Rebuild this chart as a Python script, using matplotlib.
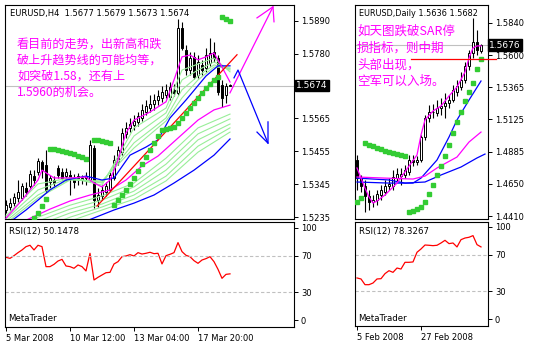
import numpy as np
import matplotlib
matplotlib.use('Agg')
import matplotlib.pyplot as plt

# ---------------- EURUSD H4 ----------------
h4_open = [1.5259, 1.5269, 1.5282, 1.5299, 1.5299, 1.5332, 1.5339, 1.5372, 1.5386, 1.5419,
           1.5409, 1.5352, 1.5359, 1.5399, 1.5386, 1.5372, 1.5376, 1.5366, 1.5366, 1.5359,
           1.5366, 1.5359, 1.5466, 1.5292, 1.5306, 1.5319, 1.5326, 1.5366, 1.5419, 1.5452,
           1.5513, 1.5533, 1.5543, 1.5553, 1.5566, 1.5586, 1.5599, 1.5613, 1.5626, 1.5633,
           1.5643, 1.5636, 1.5660, 1.5650, 1.5867, 1.5793, 1.5726, 1.5770, 1.5710, 1.5743,
           1.5733, 1.5750, 1.5786, 1.5766, 1.5676, 1.5643, 1.5677]
h4_high = [1.5292, 1.5299, 1.5316, 1.5359, 1.5349, 1.5352, 1.5392, 1.5392, 1.5432, 1.5426,
           1.5459, 1.5376, 1.5372, 1.5409, 1.5399, 1.5399, 1.5392, 1.5379, 1.5382, 1.5376,
           1.5386, 1.5493, 1.5476, 1.5332, 1.5342, 1.5352, 1.5386, 1.5442, 1.5472, 1.5533,
           1.5553, 1.5566, 1.5576, 1.5586, 1.5613, 1.5626, 1.5643, 1.5646, 1.5660, 1.5673,
           1.5680, 1.5686, 1.5680, 1.5897, 1.5887, 1.5810, 1.5786, 1.5786, 1.5776, 1.5760,
           1.5800, 1.5833, 1.5820, 1.5776, 1.5693, 1.5683, 1.5679]
h4_low = [1.5249, 1.5259, 1.5272, 1.5285, 1.5292, 1.5306, 1.5332, 1.5342, 1.5376, 1.5366,
          1.5316, 1.5332, 1.5336, 1.5366, 1.5359, 1.5356, 1.5309, 1.5332, 1.5342, 1.5346,
          1.5342, 1.5352, 1.5266, 1.5269, 1.5292, 1.5306, 1.5319, 1.5359, 1.5409, 1.5442,
          1.5499, 1.5519, 1.5526, 1.5539, 1.5556, 1.5576, 1.5586, 1.5593, 1.5609, 1.5620,
          1.5633, 1.5626, 1.5640, 1.5643, 1.5793, 1.5710, 1.5710, 1.5696, 1.5700, 1.5710,
          1.5720, 1.5740, 1.5753, 1.5643, 1.5603, 1.5616, 1.5673]
h4_close = [1.5276, 1.5282, 1.5302, 1.5319, 1.5339, 1.5319, 1.5379, 1.5359, 1.5422, 1.5392,
            1.5326, 1.5366, 1.5349, 1.5376, 1.5366, 1.5386, 1.5362, 1.5352, 1.5372, 1.5366,
            1.5372, 1.5476, 1.5292, 1.5309, 1.5326, 1.5339, 1.5376, 1.5426, 1.5459, 1.5516,
            1.5533, 1.5546, 1.5556, 1.5573, 1.5593, 1.5606, 1.5613, 1.5626, 1.5640, 1.5653,
            1.5660, 1.5670, 1.5650, 1.5867, 1.5800, 1.5726, 1.5766, 1.5703, 1.5753, 1.5726,
            1.5776, 1.5783, 1.5766, 1.5653, 1.5633, 1.5673, 1.5674]

# moving averages, read at selected bars
h4_fast_ma_bars = [0, 4, 8, 9, 12, 16, 20, 22, 24, 26, 28, 30, 32, 36, 40, 42, 44, 46, 48, 50, 52, 54, 56]
h4_fast_ma = [1.5232, 1.5292, 1.5359, 1.5392, 1.5366, 1.5366, 1.5369, 1.5349, 1.5336, 1.5359,
              1.5426, 1.5516, 1.5559, 1.5586, 1.5620, 1.5693, 1.5770, 1.5776, 1.5760, 1.5770,
              1.5783, 1.5736, 1.5686]
h4_mid_ma_bars = [0, 2, 5, 8, 11, 15, 20, 24, 27, 31, 35, 38, 41, 45, 50, 53, 56]
h4_mid_ma = [1.5219, 1.5229, 1.5259, 1.5292, 1.5326, 1.5359, 1.5372, 1.5359, 1.5366, 1.5442,
             1.5469, 1.5493, 1.5566, 1.5626, 1.5706, 1.5740, 1.5740]
h4_slow_ma_bars = [3, 5, 11, 16, 21, 26, 30, 34, 38, 43, 48, 52, 56]
h4_slow_ma = [1.5212, 1.5225, 1.5262, 1.5289, 1.5309, 1.5326, 1.5359, 1.5406, 1.5439, 1.5499,
              1.5559, 1.5593, 1.5609]
h4_long_ma_bars = [20, 27, 32, 37, 42, 47, 52, 56]
h4_long_ma = [1.5222, 1.5259, 1.5282, 1.5309, 1.5349, 1.5392, 1.5442, 1.5496]

# short-term ribbon
h4_short_bars = [0, 8, 16, 24, 32, 40, 44, 48, 52, 56]
h4_short_1 = [1.5239, 1.5346, 1.5366, 1.5342, 1.5533, 1.5599, 1.5726, 1.5746, 1.5766, 1.5720]
h4_short_2 = [1.5229, 1.5326, 1.5366, 1.5349, 1.5506, 1.5583, 1.5693, 1.5726, 1.5753, 1.5726]
h4_short_3 = [1.5222, 1.5309, 1.5362, 1.5352, 1.5483, 1.5566, 1.5660, 1.5706, 1.5743, 1.5730]
h4_short_4 = [1.5215, 1.5299, 1.5359, 1.5356, 1.5466, 1.5556, 1.5633, 1.5693, 1.5736, 1.5733]
# long-term ribbon
h4_ribbon_bars = [0, 8, 16, 24, 32, 40, 48, 56]
h4_long_1 = [1.5199, 1.5235, 1.5275, 1.5306, 1.5349, 1.5432, 1.5533, 1.5579]
h4_long_2 = [1.5186, 1.5222, 1.5262, 1.5292, 1.5336, 1.5412, 1.5513, 1.5563]
h4_long_3 = [1.5172, 1.5209, 1.5249, 1.5279, 1.5322, 1.5392, 1.5493, 1.5546]
h4_long_4 = [1.5159, 1.5195, 1.5235, 1.5269, 1.5309, 1.5372, 1.5472, 1.5533]
h4_long_5 = [1.5145, 1.5182, 1.5222, 1.5259, 1.5295, 1.5356, 1.5452, 1.5519]

# parabolic SAR
h4_sar_bars = [7, 8, 9, 10,
               11, 12, 13, 14, 15, 16, 17, 18, 19, 20,
               22, 23, 24, 25, 26,
               27, 28, 29, 30, 31, 32, 33, 34, 35, 36, 37, 38,
               39, 40, 41, 42, 43,
               44, 45, 46, 47, 48, 49, 50, 51, 52, 53,
               54, 55, 56]
h4_sar = [1.5232, 1.5249, 1.5272, 1.5295,
          1.5462, 1.5462, 1.5459, 1.5456, 1.5452, 1.5449, 1.5446, 1.5439, 1.5436, 1.5429,
          1.5493, 1.5493, 1.5489, 1.5486, 1.5483,
          1.5275, 1.5292, 1.5309, 1.5326, 1.5346, 1.5366, 1.5389, 1.5412, 1.5436, 1.5459,
          1.5483, 1.5506,
          1.5526, 1.5529, 1.5533, 1.5536, 1.5549,
          1.5566, 1.5583, 1.5599, 1.5616, 1.5633, 1.5650, 1.5666, 1.5680, 1.5693, 1.5703,
          1.5903, 1.5897, 1.5890]

h4_rsi = [68.1, 67.0, 69.9, 73.2, 76.1, 79.7, 81.2, 76.1, 81.2, 79.7,
          58.0, 58.0, 60.5, 64.1, 65.9, 58.7, 58.0, 56.2, 59.8, 58.0,
          53.3, 72.5, 43.5, 46.4, 48.9, 51.4, 51.8, 60.9, 63.4, 68.8,
          69.6, 71.0, 69.6, 73.2, 71.7, 72.5, 73.6, 72.1, 72.5, 60.9,
          69.9, 71.4, 73.2, 84.1, 74.3, 70.3, 68.8, 64.5, 61.6, 65.2,
          66.7, 68.8, 63.4, 55.1, 45.3, 49.6, 50.1478]

# trend line and drawn arrows
h4_trend_bars = [22.75, 57.75]
h4_trend = [1.5272, 1.5777]
up_path_bars = [56, 66.75]
up_path = [1.5650, 1.5937]
up_head_bars = [62.75, 66.75, 67]
up_head = [1.5900, 1.5937, 1.5887]
down_path_bars = [57, 58, 65.5]
down_path = [1.5700, 1.5726, 1.5482]
down_head_bars = [62.75, 65.5, 65.5]
down_head = [1.5519, 1.5482, 1.5553]

h4_ticks = [1.5890, 1.5780, 1.5565, 1.5455, 1.5345, 1.5235]
h4_date_bars = [0, 16, 32, 48]
h4_dates = ['5 Mar 2008', '10 Mar 12:00', '13 Mar 04:00', '17 Mar 20:00']
h4_note = ['看目前的走势，出新高和跌', '破上升趋势线的可能均等，', '如突破1.58，还有上', '1.5960的机会。']

# ---------------- EURUSD Daily ----------------
d1_open = [1.4825, 1.4691, 1.4632, 1.4558, 1.4514, 1.4528, 1.4566, 1.4588, 1.4632, 1.4632,
           1.4691, 1.4706, 1.4714, 1.4736, 1.4825, 1.4810, 1.4825, 1.4995, 1.5136, 1.5181,
           1.5173, 1.5210, 1.5225, 1.5247, 1.5269, 1.5329, 1.5366, 1.5418, 1.5521, 1.5618,
           1.5699, 1.5636]
d1_high = [1.4862, 1.4714, 1.4677, 1.4603, 1.4566, 1.4603, 1.4640, 1.4677, 1.4691, 1.4751,
           1.4766, 1.4766, 1.4788, 1.4862, 1.4862, 1.4855, 1.5010, 1.5158, 1.5232, 1.5240,
           1.5269, 1.5284, 1.5321, 1.5306, 1.5381, 1.5418, 1.5477, 1.5551, 1.5640, 1.5877,
           1.5788, 1.5682]
d1_low = [1.4603, 1.4588, 1.4440, 1.4454, 1.4477, 1.4491, 1.4528, 1.4566, 1.4603, 1.4603,
          1.4669, 1.4640, 1.4691, 1.4714, 1.4780, 1.4788, 1.4810, 1.4973, 1.5107, 1.5136,
          1.5151, 1.5158, 1.5136, 1.5210, 1.5255, 1.5299, 1.5343, 1.5395, 1.5492, 1.5581,
          1.5603, 1.5620]
d1_close = [1.4691, 1.4632, 1.4558, 1.4514, 1.4528, 1.4573, 1.4603, 1.4632, 1.4647, 1.4699,
            1.4721, 1.4721, 1.4751, 1.4825, 1.4810, 1.4825, 1.4995, 1.5136, 1.5181, 1.5181,
            1.5210, 1.5225, 1.5247, 1.5269, 1.5343, 1.5373, 1.5418, 1.5521, 1.5618, 1.5699,
            1.5640, 1.5676]

d1_fast_ma_bars = [0, 1, 2, 3, 4, 5, 7, 10, 13, 15, 16, 17, 19, 21, 23, 25, 27, 28, 29, 30, 31]
d1_fast_ma = [1.4766, 1.4691, 1.4617, 1.4551, 1.4506, 1.4521, 1.4566, 1.4654, 1.4780, 1.4862,
              1.5010, 1.5122, 1.5188, 1.5225, 1.5299, 1.5366, 1.5477, 1.5581, 1.5655, 1.5670,
              1.5670]
d1_slow_ma_bars = [0, 7, 14, 17, 20, 25, 28, 31]
d1_slow_ma = [1.4699, 1.4691, 1.4684, 1.4706, 1.4766, 1.4847, 1.4958, 1.5032]
d1_mid_blue_bars = [0, 8, 14, 16, 20, 23, 25, 28, 31]
d1_mid_blue = [1.4662, 1.4654, 1.4654, 1.4691, 1.4825, 1.4995, 1.5122, 1.5269, 1.5410]
d1_long_blue_bars = [0, 8, 12, 17, 21, 26, 30, 32]
d1_long_blue = [1.4691, 1.4677, 1.4654, 1.4662, 1.4714, 1.4773, 1.4840, 1.4869]

d1_sar_bars = list(range(0, 32))
d1_sar = [1.4514, 1.4543,
          1.4951, 1.4936, 1.4929, 1.4914, 1.4907, 1.4892, 1.4884, 1.4877, 1.4869, 1.4862, 1.4855,
          1.4440, 1.4447, 1.4462, 1.4477, 1.4514, 1.4573, 1.4640, 1.4714, 1.4780, 1.4855,
          1.4936, 1.5025, 1.5107, 1.5181, 1.5262, 1.5329, 1.5395, 1.5499, 1.5573]

d1_rsi = [44.6, 43.5, 37.3, 37.3, 39.1, 43.5, 43.8, 49.3, 52.5, 50.7,
          55.4, 54.3, 61.6, 61.6, 62.0, 72.5, 76.1, 80.4, 80.1, 79.7,
          80.1, 82.6, 85.5, 81.9, 82.6, 78.3, 86.2, 88.0, 88.8, 90.6,
          80.8, 78.3267]

d1_stop_bar = 13.5
d1_stop_level = 1.5573

d1_ticks = [1.5840, 1.5600, 1.5365, 1.5125, 1.4885, 1.4650, 1.4410]
d1_date_bars = [0, 16]
d1_dates = ['5 Feb 2008', '27 Feb 2008']
d1_note = ['如天图跌破SAR停', '损指标，则中期', '头部出现，', '空军可以入场。']

MAGENTA = '#ff00ff'
BLUE = '#0000ff'
LGREEN = '#98ee98'
SARGREEN = '#33cc33'
GRID = '#c0c0c0'
CJK = ['Noto Sans CJK SC', 'DejaVu Sans']

plt.rcParams['font.family'] = ['DejaVu Sans']
W, H = 535, 347
fig = plt.figure(figsize=(W / 100, H / 100), dpi=100)
fig.patch.set_facecolor('white')


def add_panel(box):
    x0, y0, x1, y1 = box
    return fig.add_axes([x0 / W, 1 - y1 / H, (x1 - x0) / W, (y1 - y0) / H])


def at(box, x, y):
    # pixel position inside a panel -> axes fraction
    x0, y0, x1, y1 = box
    return (x - x0) / (x1 - x0), 1 - (y - y0) / (y1 - y0)


def style(ax):
    for s in ax.spines.values():
        s.set_linewidth(0.8)
        s.set_color('black')
    ax.yaxis.tick_right()
    ax.tick_params(axis='y', direction='out', length=3, width=0.7, labelsize=6, pad=2)
    ax.tick_params(axis='x', direction='out', length=3, width=0.7, labelsize=6, pad=2)


def candles(ax, o, h, l, c):
    o, h, l, c = map(np.asarray, (o, h, l, c))
    idx = np.arange(len(o))
    ax.vlines(idx, l, h, color='black', lw=0.8, zorder=2)
    up = c >= o
    ax.bar(idx, np.abs(c - o), width=0.55, bottom=np.minimum(o, c),
           color=np.where(up, 'white', 'black'), edgecolor='black', linewidth=0.7, zorder=3)


def price_box(ax, value):
    ax.text(1.008, value, f'{value:.4f}', transform=ax.get_yaxis_transform(),
            ha='left', va='center', color='white', fontsize=6.5, clip_on=False,
            bbox=dict(facecolor='black', edgecolor='black', pad=1.0))


def rsi_panel(ax, box, values, xlim, date_bars, dates, ylim):
    style(ax)
    ax.plot(np.arange(len(values)), values, color='red', lw=0.9)
    for lvl in (70, 30):
        ax.axhline(lvl, color=GRID, lw=0.8, ls=(0, (3, 2)))
    ax.set_xlim(*xlim)
    ax.set_ylim(*ylim)
    ax.set_yticks([100, 70, 30, 0])
    ax.set_xticks(date_bars)
    ax.set_xticklabels(dates, ha='left')
    ax.text(*at(box, box[0] + 4, 231.5), f'RSI(12) {values[-1]:.4f}', transform=ax.transAxes,
            fontsize=6.2, va='center')
    ax.text(*at(box, box[0] + 3, 318.5), 'MetaTrader', transform=ax.transAxes,
            fontsize=6.2, va='center')


B_H4 = (5, 5, 294, 219)
B_H4R = (5, 222, 294, 327)
B_D1 = (355, 5, 488, 219)
B_D1R = (355, 222, 488, 326)

# ---------- H4 price panel ----------
ax = add_panel(B_H4)
style(ax)
ax.set_xlim(-0.25, 72)
ax.set_ylim(1.5229, 1.5943)
ax.set_xticks([])
ax.set_yticks(h4_ticks)
ax.set_yticklabels([f'{t:.4f}' for t in h4_ticks])
ax.axhline(h4_close[-1], color=GRID, lw=0.8, zorder=1)

for ys in (h4_long_1, h4_long_2, h4_long_3, h4_long_4, h4_long_5):
    ax.plot(h4_ribbon_bars, ys, color=LGREEN, lw=0.8, zorder=4)
for ys in (h4_short_1, h4_short_2, h4_short_3, h4_short_4):
    ax.plot(h4_short_bars, ys, color=LGREEN, lw=0.8, zorder=4)
candles(ax, h4_open, h4_high, h4_low, h4_close)
ax.plot(h4_slow_ma_bars, h4_slow_ma, color=MAGENTA, lw=0.9, zorder=5)
ax.plot(h4_long_ma_bars, h4_long_ma, color=BLUE, lw=0.9, zorder=5)
ax.plot(h4_mid_ma_bars, h4_mid_ma, color=BLUE, lw=0.9, zorder=5)
ax.plot(h4_fast_ma_bars, h4_fast_ma, color=MAGENTA, lw=0.9, zorder=5)
ax.plot(h4_trend_bars, h4_trend, color='red', lw=0.9, zorder=5)
ax.plot(h4_sar_bars, h4_sar, ls='none', marker='s', ms=2.2, color=SARGREEN, zorder=6)

ax.plot(up_path_bars, up_path, color=MAGENTA, lw=0.9, zorder=6, clip_on=False)
ax.plot(up_head_bars, up_head, color=MAGENTA, lw=0.9, zorder=6, clip_on=False)
ax.plot(down_path_bars, down_path, color=BLUE, lw=0.9, zorder=6)
ax.plot(down_head_bars, down_head, color=BLUE, lw=0.9, zorder=6)

ax.text(*at(B_H4, 10, 13.5),
        f'EURUSD,H4  {h4_open[-1]:.4f} {h4_high[-1]:.4f} {h4_low[-1]:.4f} {h4_close[-1]:.4f}',
        transform=ax.transAxes, fontsize=6.0, va='center')
for i, line in enumerate(h4_note):
    ax.text(*at(B_H4, 17, 44 + 16 * i), line, transform=ax.transAxes, family=CJK,
            fontsize=8.7, color=MAGENTA, va='center', zorder=7)
price_box(ax, h4_close[-1])

axr = add_panel(B_H4R)
rsi_panel(axr, B_H4R, h4_rsi, (-0.25, 72), h4_date_bars, h4_dates, (-7.6, 106.5))

# ---------- Daily price panel ----------
bx = add_panel(B_D1)
style(bx)
bx.set_xlim(-0.5, 32.75)
bx.set_ylim(1.4388, 1.5973)
bx.set_xticks([])
bx.set_yticks(d1_ticks)
bx.set_yticklabels([f'{t:.4f}' for t in d1_ticks])
bx.axhline(d1_close[-1], color=GRID, lw=0.8, zorder=1)

candles(bx, d1_open, d1_high, d1_low, d1_close)
bx.plot(d1_long_blue_bars, d1_long_blue, color=BLUE, lw=0.9, zorder=5)
bx.plot(d1_mid_blue_bars, d1_mid_blue, color=BLUE, lw=0.9, zorder=5)
bx.plot(d1_slow_ma_bars, d1_slow_ma, color=MAGENTA, lw=0.9, zorder=5)
bx.plot(d1_fast_ma_bars, d1_fast_ma, color=MAGENTA, lw=0.9, zorder=5)
bx.plot(d1_sar_bars, d1_sar, ls='none', marker='s', ms=2.2, color=SARGREEN, zorder=6)
bx.plot([d1_stop_bar, 34.75], [d1_stop_level, d1_stop_level], color='red', lw=0.9,
        zorder=6, clip_on=False)

bx.text(*at(B_D1, 359, 13.5), f'EURUSD,Daily {d1_open[-1]:.4f} {d1_high[-1]:.4f}',
        transform=bx.transAxes, fontsize=5.9, va='center')
for i, line in enumerate(d1_note):
    bx.text(*at(B_D1, 357, 31.5 + 16.8 * i), line, transform=bx.transAxes, family=CJK,
            fontsize=9, color=MAGENTA, va='center', zorder=7)
price_box(bx, d1_close[-1])

bxr = add_panel(B_D1R)
rsi_panel(bxr, B_D1R, d1_rsi, (-0.5, 32.75), d1_date_bars, d1_dates, (-7.6, 105.4))

fig.savefig('out.png', dpi=100)
